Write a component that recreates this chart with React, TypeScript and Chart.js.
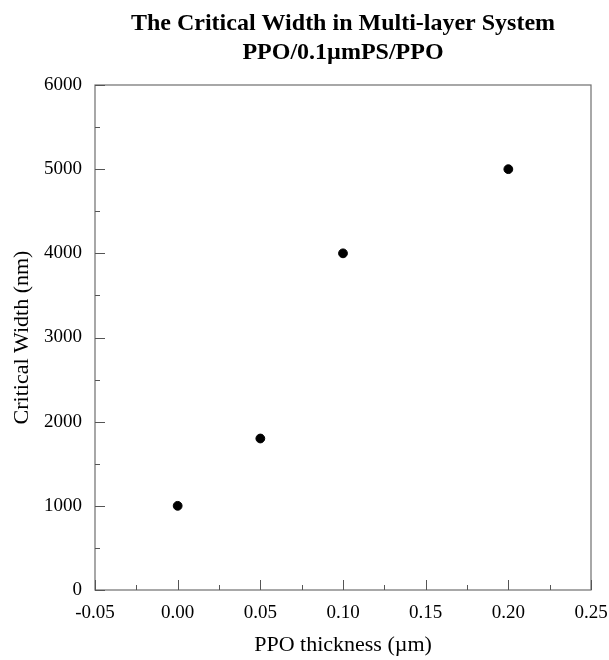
import React, { useEffect, useRef } from "react";
import { Chart, registerables } from "chart.js";

Chart.register(...registerables);

const titleLines = ["The Critical Width in Multi-layer System", "PPO/0.1\u00b5mPS/PPO"];
const xTitle = "PPO thickness (\u00b5m)";
const yTitle = "Critical Width (nm)";
const thickness = [0.0, 0.05, 0.1, 0.2];
const criticalWidth = [1000, 1800, 4000, 5000];
const xRange = [-0.05, 0.25];
const yRange = [0, 6000];
const xMajor = 0.05;
const xMinor = 0.025;
const yMajor = 1000;
const yMinor = 500;

const FONT = "'Liberation Serif', 'Times New Roman', serif";

const isMultiple = (v: number, step: number) => {
  const r = v / step;
  return Math.abs(r - Math.round(r)) < 1e-6;
};

const framePlugin = {
  id: "frameTicks",
  afterDraw(chart: any) {
    const { ctx, chartArea } = chart;
    const { left, right, top, bottom } = chartArea;
    ctx.save();
    // title centred over the plot area
    ctx.fillStyle = "#000";
    ctx.textAlign = "center";
    ctx.textBaseline = "middle";
    ctx.font = `bold 24px ${FONT}`;
    const cx = (left + right) / 2;
    titleLines.forEach((line, i) => {
      ctx.fillText(line, cx, 24 + i * 29);
    });
    ctx.strokeStyle = "#6e6e6e";
    ctx.lineWidth = 1.2;
    ctx.strokeRect(left, top, right - left, bottom - top);
    ctx.strokeStyle = "#555";
    ctx.lineWidth = 1;
    const xs = chart.scales.x;
    xs.ticks.forEach((t: any) => {
      const px = Math.round(xs.getPixelForValue(t.value)) + 0.5;
      const len = isMultiple(t.value, xMajor) ? 10 : 5;
      ctx.beginPath();
      ctx.moveTo(px, bottom);
      ctx.lineTo(px, bottom - len);
      ctx.stroke();
    });
    const ys = chart.scales.y;
    ys.ticks.forEach((t: any) => {
      const py = Math.round(ys.getPixelForValue(t.value)) + 0.5;
      const len = isMultiple(t.value, yMajor) ? 10 : 5;
      ctx.beginPath();
      ctx.moveTo(left, py);
      ctx.lineTo(left + len, py);
      ctx.stroke();
    });
    ctx.restore();
  },
};

export default function App() {
  const ref = useRef<HTMLCanvasElement>(null);
  useEffect(() => {
    if (!ref.current) return;
    const chart = new Chart(ref.current, {
      type: "scatter",
      data: {
        datasets: [
          {
            data: thickness.map((x, i) => ({ x, y: criticalWidth[i] })),
            backgroundColor: "#000",
            borderColor: "#000",
            pointRadius: 4.4,
            pointHoverRadius: 4.4,
          },
        ],
      },
      options: {
        animation: false,
        responsive: true,
        maintainAspectRatio: false,
        layout: { padding: { left: 0, right: 0, top: 85, bottom: 0 } },
        plugins: {
          legend: { display: false },
          tooltip: { enabled: false },
          title: { display: false },
        },
        scales: {
          x: {
            type: "linear",
            min: xRange[0],
            max: xRange[1],
            grid: { display: false },
            border: { display: false },
            ticks: {
              stepSize: xMinor,
              autoSkip: false,
              maxRotation: 0,
              padding: 4,
              color: "#000",
              font: { family: FONT, size: 19 },
              callback: (v: any) => {
                if (!isMultiple(v, xMajor)) return "";
                const r = Math.round(v / xMajor) * xMajor;
                return (Math.abs(r) < 1e-9 ? 0 : r).toFixed(2);
              },
            },
            title: {
              display: true,
              text: xTitle,
              color: "#000",
              font: { family: FONT, size: 22 },
              padding: 2,
            },
            afterFit: (s: any) => {
              s.height = 70;
              s.paddingLeft = 0;
              s.paddingRight = 18;
            },
          },
          y: {
            type: "linear",
            min: yRange[0],
            max: yRange[1],
            grid: { display: false },
            border: { display: false },
            ticks: {
              stepSize: yMinor,
              autoSkip: false,
              padding: 5,
              color: "#000",
              font: { family: FONT, size: 19 },
              callback: (v: any) => (isMultiple(v, yMajor) ? String(Math.round(v)) : ""),
            },
            title: {
              display: true,
              text: yTitle,
              color: "#000",
              font: { family: FONT, size: 22 },
              padding: 9,
            },
            afterFit: (s: any) => {
              s.width = 95;
            },
          },
        },
      },
      plugins: [framePlugin],
    });
    return () => chart.destroy();
  }, []);
  return (
    <div style={{ position: "absolute", left: 0, top: 0, width: 609, height: 660, background: "#fff" }}>
      <canvas ref={ref} />
    </div>
  );
}
